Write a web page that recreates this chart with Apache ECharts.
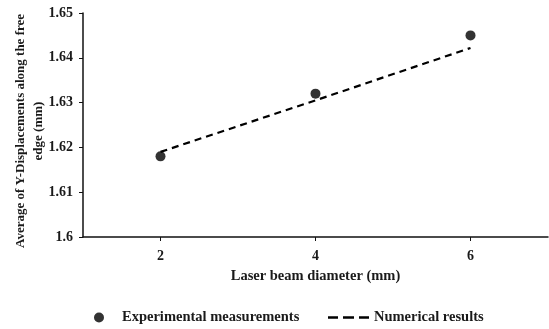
<!DOCTYPE html>
<html><head><meta charset="utf-8">
<script src="https://cdn.jsdelivr.net/npm/echarts@6/dist/echarts.min.js"></script>
<style>html,body{margin:0;padding:0;background:#fff}#c{width:549px;height:329px}</style>
</head><body><div id="c"></div>
<script>
const diameters = [2, 4, 6];
const experimental = [1.618, 1.632, 1.645];
const numerical = [1.619, 1.6305, 1.6422];
const xTicks = [2, 4, 6];
const yTicks = [1.6, 1.61, 1.62, 1.63, 1.64, 1.65];

const font = 'Liberation Serif';
const txt = {fontFamily: font, fontWeight: 'bold', color: '#1a1a1a'};
const chart = echarts.init(document.getElementById('c'));
chart.setOption({
  animation: false,
  grid: {left: 83, right: 1, top: 13, bottom: 92, outerBoundsMode: 'none', containLabel: false},
  xAxis: {
    type: 'value', min: 1, max: 7,
    name: 'Laser beam diameter (mm)', nameLocation: 'middle', nameGap: 32, nameMoveOverlap: false,
    nameTextStyle: Object.assign({fontSize: 14.5}, txt),
    axisLine: {lineStyle: {color: '#111', width: 1.5}},
    axisTick: {show: true, length: 4, customValues: xTicks, lineStyle: {color: '#111'}},
    axisLabel: Object.assign({customValues: xTicks, fontSize: 14, margin: 12}, txt),
    splitLine: {show: false}
  },
  yAxis: {
    type: 'value', min: 1.6, max: 1.65, interval: 0.01,
    name: 'Average of Y-Displacements along the free\nedge (mm)', nameLocation: 'middle', nameGap: 35, nameMoveOverlap: false,
    nameTextStyle: Object.assign({fontSize: 13, lineHeight: 18, padding: [0, 12, 0, 0]}, txt),
    axisLine: {show: true, lineStyle: {color: '#111', width: 1.5}},
    axisTick: {show: true, length: 4, lineStyle: {color: '#111'}},
    axisLabel: Object.assign({fontSize: 14, margin: 10,
      formatter: v => String(parseFloat(v.toFixed(2)))}, txt),
    splitLine: {show: false}
  },
  legend: [
    {
      left: 94, bottom: 4, padding: 0,
      textStyle: Object.assign({fontSize: 14.5}, txt),
      itemWidth: 36, itemHeight: 10,
      data: [{name: 'Experimental measurements', icon: 'circle'}]
    },
    {
      left: 328, bottom: 4, padding: 0,
      textStyle: Object.assign({fontSize: 14.5}, txt),
      itemWidth: 41, itemHeight: 2.5, itemGap: 3,
      data: [{name: 'Numerical results', icon: 'path://M0,0h10v2.5h-10z M15,0h11v2.5h-11z M31,0h10v2.5h-10z'}]
    }
  ],
  series: [
    {
      name: 'Numerical results', type: 'line', symbol: 'none',
      data: diameters.map((d, i) => [d, numerical[i]]),
      lineStyle: {color: '#000', width: 2.2, type: [7, 5]},
      itemStyle: {color: '#000'}
    },
    {
      name: 'Experimental measurements', type: 'scatter', symbol: 'circle', symbolSize: 10,
      data: diameters.map((d, i) => [d, experimental[i]]),
      itemStyle: {color: '#000'}
    }
  ]
});
</script></body></html>
